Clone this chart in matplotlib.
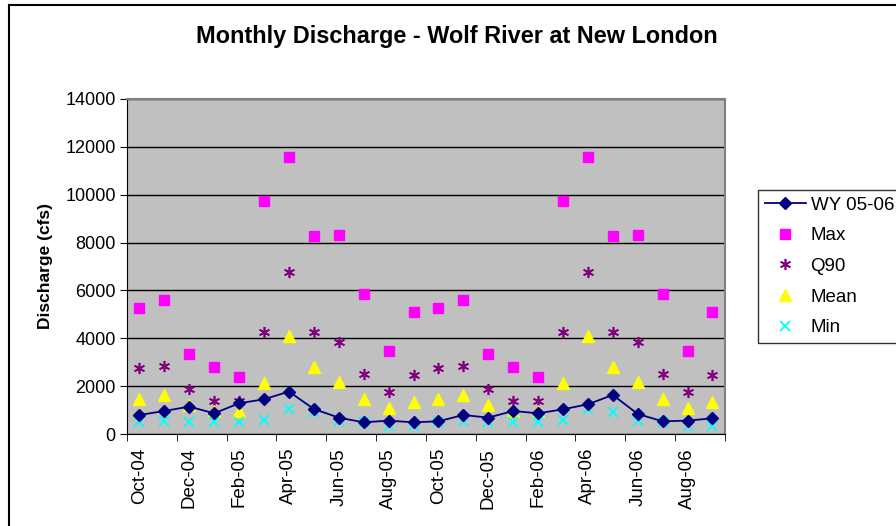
import matplotlib
matplotlib.use("Agg")
from matplotlib import pyplot as plt
from matplotlib.lines import Line2D
import numpy as np

plt.rcParams['font.family'] = ['Liberation Sans', 'DejaVu Sans']

months = ['Oct-04', 'Nov-04', 'Dec-04', 'Jan-05', 'Feb-05', 'Mar-05', 'Apr-05', 'May-05',
          'Jun-05', 'Jul-05', 'Aug-05', 'Sep-05', 'Oct-05', 'Nov-05', 'Dec-05', 'Jan-06',
          'Feb-06', 'Mar-06', 'Apr-06', 'May-06', 'Jun-06', 'Jul-06', 'Aug-06', 'Sep-06']

wy_0506 = [795, 963, 1144, 865, 1283, 1451, 1772, 1046, 684, 488, 558, 488,
           530, 795, 684, 963, 865, 1032, 1242, 1632, 837, 530, 558, 656]

# long-term monthly stats, Oct..Sep (repeated for both years)
max_q = [5250, 5600, 3350, 2790, 2370, 9750, 11590, 8270, 8330, 5870, 3460, 5080]
q90 = [2750, 2860, 1900, 1380, 1380, 4280, 6750, 4280, 3860, 2510, 1770, 2450]
mean_q = [1450, 1650, 1200, 980, 950, 2120, 4100, 2820, 2180, 1450, 1070, 1340]
min_q = [490, 560, 490, 490, 490, 590, 1030, 910, 560, 490, 350, 350]

x = np.arange(len(months))

fig = plt.figure(figsize=(8.96, 5.26), dpi=100)
ax = fig.add_axes([0.1417, 0.1749, 0.6674, 0.6369])
ax.set_facecolor('#C0C0C0')

ax.plot(x, wy_0506, '-D', color='#000080', markersize=6, linewidth=1.3, label='WY 05-06', zorder=5)
ax.plot(x, max_q * 2, 's', color='#FF00FF', markersize=6.5, linestyle='none', label='Max', zorder=4)
ax.plot(x, q90 * 2, marker=(6, 2, 0), color='#800080', markersize=8, markeredgewidth=1.2,
        linestyle='none', label='Q90', zorder=4)
ax.plot(x, mean_q * 2, '^', color='#FFFF00', markersize=8, linestyle='none', label='Mean', zorder=4)
ax.plot(x, min_q * 2, 'x', color='#00FFFF', markersize=7.5, markeredgewidth=1.3,
        linestyle='none', label='Min', zorder=4)

ax.set_xlim(-0.5, len(months) - 0.5)
ax.set_ylim(0, 14000)
ax.set_yticks(np.arange(0, 14001, 2000))
ax.yaxis.grid(True, color='black', linewidth=1)
ax.set_axisbelow(True)

ax.set_xticks(x[::2])
ax.set_xticklabels(months[::2], rotation=90, fontsize=13.5)
ax.set_xticks(np.arange(-0.5, len(months), 2), minor=True)
ax.tick_params(axis='x', which='major', length=0, pad=10)
ax.tick_params(axis='x', which='minor', length=5, direction='out', color='black')
ax.tick_params(axis='y', labelsize=13, length=5, direction='out', color='black', pad=3)

for side in ['top', 'right']:
    ax.spines[side].set_color('#808080')
    ax.spines[side].set_linewidth(1.5)
for side in ['left', 'bottom']:
    ax.spines[side].set_color('black')

ax.set_ylabel('Discharge (cfs)', fontsize=12.5, fontweight='bold', labelpad=9)
fig.suptitle('Monthly Discharge - Wolf River at New London', fontsize=16.9,
             fontweight='bold', x=0.51, y=0.93, va='center')

leg = fig.legend(*ax.get_legend_handles_labels(), loc='upper left',
                 bbox_to_anchor=(758 / 896, 1 - 190 / 526), borderaxespad=0,
                 fontsize=13.5, frameon=True, fancybox=False, edgecolor='black',
                 borderpad=0.35, labelspacing=0.72, handlelength=2.2, handletextpad=0.25)
leg.get_frame().set_linewidth(1)

# chart area border (only left and top edges fall inside the picture)
fig.add_artist(Line2D([9 / 896, 9 / 896], [0, 1 - 5 / 526], transform=fig.transFigure,
                      color='black', linewidth=1.5))
fig.add_artist(Line2D([9 / 896, 1], [1 - 5 / 526, 1 - 5 / 526], transform=fig.transFigure,
                      color='black', linewidth=1.5))

fig.savefig('out.png', dpi=100)
